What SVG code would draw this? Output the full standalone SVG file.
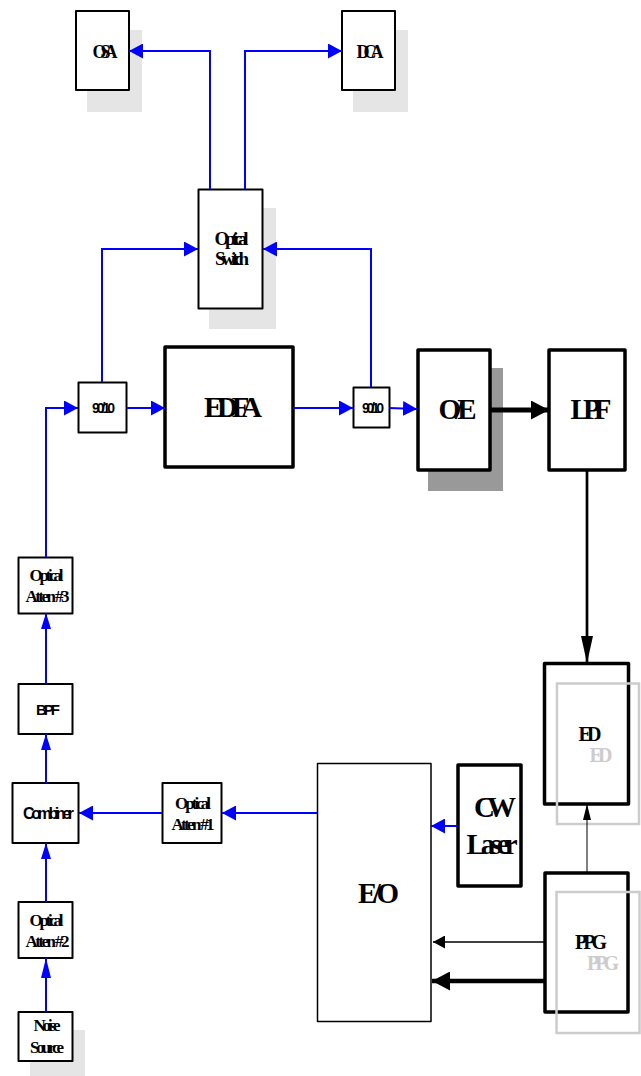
<svg xmlns="http://www.w3.org/2000/svg" width="641" height="1076" viewBox="0 0 641 1076">
<style>
.bx{fill:#fff;stroke:#000;stroke-linejoin:round}
.t2{stroke-width:2}
.t15{stroke-width:1.5}
.t4{stroke-width:3.5}
.sh{fill:#e5e5e5}
.sh2{fill:#999}
.gr{fill:none;stroke:#ccc;stroke-width:2.5}
.s{font-family:"Liberation Serif","Times New Roman",serif;font-weight:bold;text-anchor:middle;fill:#000}
.a{font-family:"Liberation Sans",Arial,sans-serif;font-weight:bold;text-anchor:middle;fill:#000}
.g{fill:#ccc}
.bl{fill:none;stroke:#00f;stroke-width:2}
.bk{fill:none;stroke:#000}
</style>
<defs>
<marker id="mb" markerUnits="userSpaceOnUse" markerWidth="14" markerHeight="15" refX="14" refY="7.5" orient="auto"><path d="M0,0L14,7.5L0,15z" fill="#00f"/></marker>
<marker id="mbv" markerUnits="userSpaceOnUse" markerWidth="16" markerHeight="10" refX="16" refY="5" orient="auto"><path d="M0,0L16,5L0,10z" fill="#00f"/></marker>
<marker id="mbv2" markerUnits="userSpaceOnUse" markerWidth="20" markerHeight="10" refX="20" refY="5" orient="auto"><path d="M0,0L20,5L0,10z" fill="#00f"/></marker>
<marker id="mk1" markerUnits="userSpaceOnUse" markerWidth="18" markerHeight="19" refX="18" refY="9.5" orient="auto"><path d="M0,0L18,9.5L0,19z" fill="#000"/></marker>
<marker id="mk2" markerUnits="userSpaceOnUse" markerWidth="27" markerHeight="12" refX="27" refY="6" orient="auto"><path d="M0,0L27,6L0,12z" fill="#000"/></marker>
<marker id="mk3" markerUnits="userSpaceOnUse" markerWidth="16" markerHeight="8" refX="16" refY="4" orient="auto"><path d="M0,0L16,4L0,8z" fill="#000"/></marker>
<marker id="mk4" markerUnits="userSpaceOnUse" markerWidth="12" markerHeight="13" refX="12" refY="6.5" orient="auto"><path d="M0,0L12,6.5L0,13z" fill="#000"/></marker>
</defs>

<g id="osa">
<rect class="sh" x="87" y="30" width="55" height="82"/>
<rect class="bx t2" x="76" y="11" width="53" height="79"/>
<text class="s" x="105" y="57.5" font-size="18" textLength="25">OSA</text>
</g>
<g id="dca">
<rect class="sh" x="353" y="30" width="55" height="82"/>
<rect class="bx t2" x="342" y="11" width="53" height="79"/>
<text class="s" x="370" y="57.5" font-size="18" textLength="27">DCA</text>
</g>
<g id="switch">
<rect class="sh" x="209" y="208" width="67" height="121"/>
<rect class="bx t2" x="198.5" y="189.5" width="64" height="119"/>
<text class="s" x="231.5" y="245" font-size="19" textLength="34">Optical</text>
<text class="s" x="232" y="265" font-size="19" textLength="34">Switch</text>
</g>
<g id="split1">
<rect class="bx t2" x="78.5" y="382.5" width="48" height="50"/>
<text class="a" x="103.5" y="412.5" font-size="14" textLength="23">90/10</text>
</g>
<g id="edfa">
<rect class="bx t4" x="165" y="347" width="128" height="120"/>
<text class="s" x="233" y="416.5" font-size="29" textLength="58">EDFA</text>
</g>
<g id="split2">
<rect class="bx t2" x="353.5" y="387.5" width="36" height="40"/>
<text class="a" x="373" y="412.5" font-size="14" textLength="22">90/10</text>
</g>
<g id="oe">
<rect class="sh2" x="428" y="368" width="75" height="123"/>
<rect class="bx t4" x="418" y="350" width="72" height="120"/>
<text class="s" x="457.5" y="419" font-size="29" textLength="38">O/E</text>
</g>
<g id="lpf">
<rect class="bx t4" x="549" y="350" width="76" height="120"/>
<text class="s" x="591" y="419" font-size="29" textLength="41">LPF</text>
</g>
<g id="ed">
<rect class="bx t4" x="544.5" y="663.5" width="84" height="140.5"/>
<rect class="gr" x="557" y="683.5" width="82" height="140.5"/>
<text class="s" x="590" y="741" font-size="20" textLength="23">ED</text>
<text class="s g" x="601" y="761.5" font-size="20" textLength="23">ED</text>
</g>
<g id="ppg">
<rect class="bx t4" x="545" y="873" width="83" height="139"/>
<rect class="gr" x="556.5" y="892" width="83" height="141"/>
<text class="s" x="591" y="949" font-size="20" textLength="32">PPG</text>
<text class="s g" x="603" y="970" font-size="20" textLength="32">PPG</text>
</g>
<g id="eo">
<rect class="bx t15" x="317.5" y="763.5" width="113.5" height="258"/>
<text class="s" x="378.5" y="902.5" font-size="29" textLength="41">E/O</text>
</g>
<g id="cw">
<rect class="bx t4" x="458" y="765" width="63" height="121"/>
<text class="s" x="495" y="816.5" font-size="29" textLength="42">CW</text>
<text class="s" x="492" y="854" font-size="29" textLength="51">Laser</text>
</g>
<g id="atten1">
<rect class="bx t2" x="162.5" y="783" width="59" height="60"/>
<text class="s" x="193" y="809" font-size="17" textLength="36">Optical</text>
<text class="s" x="193" y="830" font-size="17" textLength="43">Atten #1</text>
</g>
<g id="combiner">
<rect class="bx t2" x="12.5" y="783" width="66" height="60"/>
<text class="a" x="48.5" y="819" font-size="16" textLength="51">Combiner</text>
</g>
<g id="bpf">
<rect class="bx t2" x="18.5" y="684" width="54" height="50"/>
<text class="a" x="48" y="715" font-size="15" textLength="24">BPF</text>
</g>
<g id="atten3">
<rect class="bx t2" x="18.5" y="557.5" width="54" height="56"/>
<text class="s" x="46.5" y="580.5" font-size="17" textLength="34">Optical</text>
<text class="s" x="47.5" y="601.5" font-size="17" textLength="44">Atten #3</text>
</g>
<g id="atten2">
<rect class="bx t2" x="18.5" y="902" width="54" height="56"/>
<text class="s" x="46.5" y="926" font-size="17" textLength="34">Optical</text>
<text class="s" x="47.5" y="946.5" font-size="17" textLength="44">Atten #2</text>
</g>
<g id="noise">
<rect class="sh" x="30" y="1030" width="55" height="50"/>
<rect class="bx t2" x="18.5" y="1012" width="54" height="49"/>
<text class="s" x="47" y="1030.5" font-size="17" textLength="27">Noise</text>
<text class="s" x="47" y="1052.5" font-size="17" textLength="34">Source</text>
</g>

<g id="connectors">
<path class="bl" d="M210,189V51H129" marker-end="url(#mb)"/>
<path class="bl" d="M245,189V51H342" marker-end="url(#mb)"/>
<path class="bl" d="M102,382V249H198" marker-end="url(#mb)"/>
<path class="bl" d="M371,387V249H263" marker-end="url(#mb)"/>
<path class="bl" d="M46,557V408H78" marker-end="url(#mb)"/>
<path class="bl" d="M127,408H165" marker-end="url(#mb)"/>
<path class="bl" d="M293,408H353" marker-end="url(#mb)"/>
<path class="bl" d="M389,408L417,409" marker-end="url(#mb)"/>
<path class="bk" stroke-width="5" d="M490,410H549" marker-end="url(#mk1)"/>
<path class="bk" stroke-width="2.7" d="M587,470V663" marker-end="url(#mk2)"/>
<path class="bk" stroke-width="1" d="M587,873V804" marker-end="url(#mk3)"/>
<path class="bk" stroke-width="1.3" d="M545,942H433" marker-end="url(#mk4)"/>
<path class="bk" stroke-width="4.5" d="M545,981H432" marker-end="url(#mk1)"/>
<path class="bl" d="M458,826H431" marker-end="url(#mb)"/>
<path class="bl" d="M317,813H222" marker-end="url(#mb)"/>
<path class="bl" d="M162,813H79" marker-end="url(#mb)"/>
<path class="bl" d="M46,783V734" marker-end="url(#mbv)"/>
<path class="bl" d="M46,684V613" marker-end="url(#mbv)"/>
<path class="bl" d="M46,902V843" marker-end="url(#mbv)"/>
<path class="bl" d="M46,1012V958" marker-end="url(#mbv2)"/>
</g>
</svg>
